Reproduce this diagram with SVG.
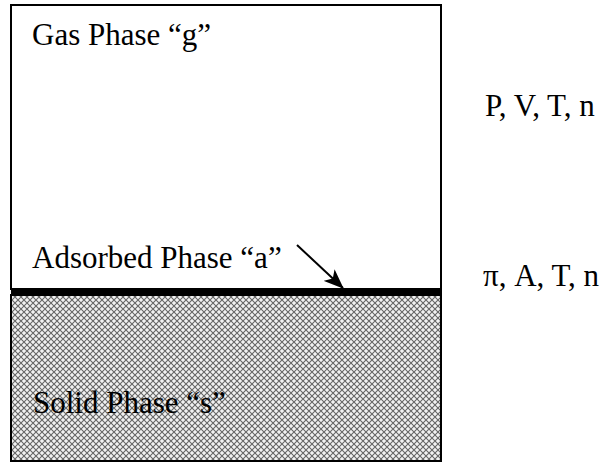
<svg xmlns="http://www.w3.org/2000/svg" width="613" height="464" viewBox="0 0 613 464">
<style>
.lbl{font-family:"Liberation Serif","Times New Roman",serif;font-size:31px;fill:#000}
</style>
<defs>
<pattern id="hatch" width="6" height="6" patternUnits="userSpaceOnUse">
<rect width="6" height="6" fill="#f2f2f2"/>
<path d="M0,0 L6,6 M6,0 L0,6" stroke="#666" stroke-width="1.1"/>
</pattern>
<marker id="arr" viewBox="0 0 20 16" refX="19" refY="8" markerWidth="20" markerHeight="16" markerUnits="userSpaceOnUse" orient="auto">
<path d="M0,0 L20,8 L0,16 L5,8 Z" fill="#000"/>
</marker>
</defs>
<g id="gas-phase">
<rect x="11" y="5" width="430" height="284" fill="#fff" stroke="#000" stroke-width="2"/>
<text class="lbl" x="32" y="45">Gas Phase “g”</text>
</g>
<g id="solid-phase">
<rect x="11" y="295" width="430" height="166" fill="url(#hatch)" stroke="#000" stroke-width="2"/>
<text class="lbl" x="33" y="413">Solid Phase “s”</text>
</g>
<g id="adsorbed-phase">
<rect x="11" y="288" width="431" height="8" fill="#000"/>
<text class="lbl" x="32" y="268">Adsorbed Phase “a”</text>
</g>
<g id="gas-vars">
<text class="lbl" x="485" y="116">P, V, T, n</text>
</g>
<g id="adsorbed-vars">
<text class="lbl" x="483" y="286">π, A, T, n</text>
</g>
<g id="connectors">
<line x1="297" y1="245" x2="343" y2="288" stroke="#000" stroke-width="2" marker-end="url(#arr)"/>
</g>
</svg>
